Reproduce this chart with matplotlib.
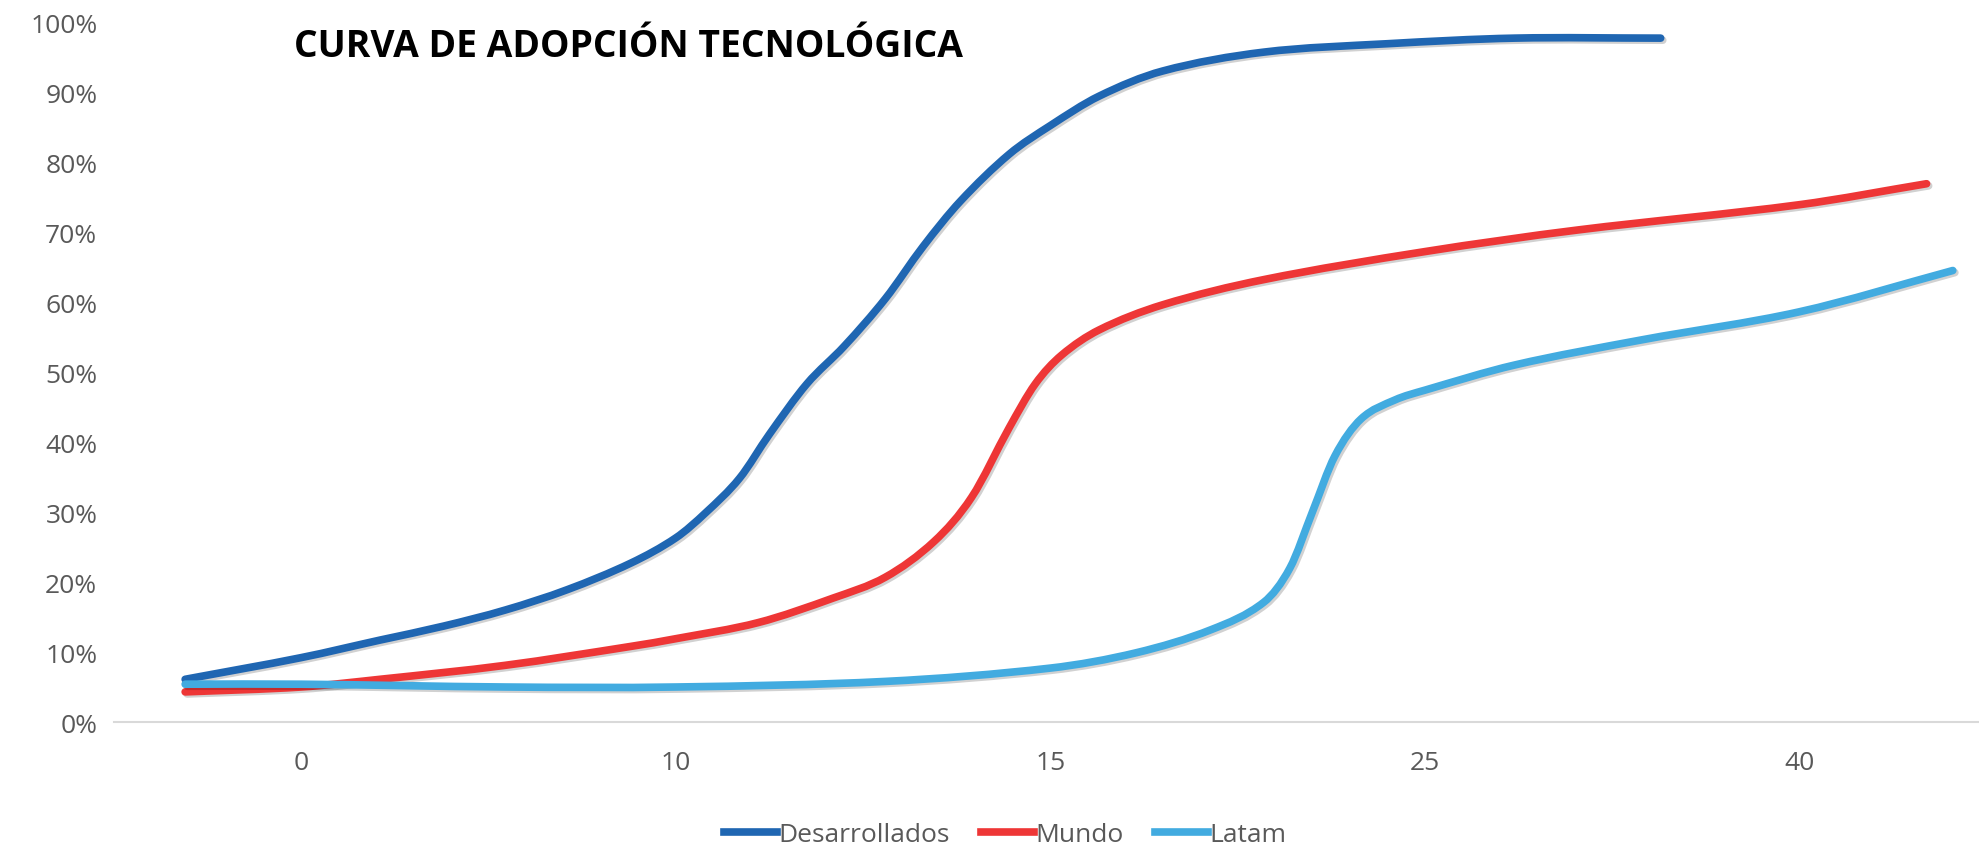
import matplotlib.pyplot as plt
import matplotlib.patheffects as pe
from matplotlib.path import Path
from matplotlib.patches import PathPatch
from matplotlib.lines import Line2D
from matplotlib.ticker import PercentFormatter

# category labels on the x axis (evenly spaced, like a spreadsheet chart)
tick_labels = ['0', '10', '15', '25', '40']

# values; x is in category units (0 = "0", 1 = "10", ...)
des_x = [-0.31, 0.0, 0.21, 0.38, 0.545, 0.71, 0.88, 1.0, 1.08, 1.17, 1.25, 1.35,
         1.45, 1.56, 1.66, 1.76, 1.89, 2.0, 2.13, 2.30, 2.57, 2.90, 3.24, 3.63]
des_y = [6.1, 9.2, 11.7, 13.7, 16.0, 18.9, 22.7, 26.3, 29.9, 34.8, 41.1, 48.3,
         53.7, 60.5, 67.9, 74.4, 81.1, 85.2, 89.4, 93.0, 95.7, 96.9, 97.7, 97.7]

mundo_x = [-0.31, 0.0, 0.21, 0.545, 0.88, 1.0, 1.22, 1.42, 1.56, 1.69, 1.79, 1.89,
           1.96, 2.03, 2.13, 2.30, 2.57, 3.0, 3.41, 4.0, 4.34]
mundo_y = [4.3, 5.0, 6.1, 8.1, 10.8, 11.9, 14.2, 17.7, 20.7, 25.8, 32.1, 42.0,
           48.3, 52.4, 56.0, 59.6, 63.2, 67.2, 70.3, 73.9, 76.9]

latam_x = [-0.31, 0.0, 0.545, 1.0, 1.56, 2.0, 2.23, 2.43, 2.57, 2.64, 2.70, 2.76,
           2.83, 2.92, 3.0, 3.24, 3.58, 4.0, 4.41]
latam_y = [5.4, 5.4, 5.0, 5.0, 5.8, 7.7, 9.9, 13.2, 17.1, 22.0, 30.0, 38.0,
           43.3, 46.0, 47.4, 51.0, 54.6, 58.6, 64.5]


def smooth_path(xs, ys):
    """Bezier path through the points (cubic Hermite on x, like a smoothed line)"""
    n = len(xs)
    slopes = []
    for i in range(n):
        a = max(i - 1, 0)
        b = min(i + 1, n - 1)
        slopes.append((ys[b] - ys[a]) / (xs[b] - xs[a]))
    verts = [(xs[0], ys[0])]
    codes = [Path.MOVETO]
    for i in range(n - 1):
        h = xs[i + 1] - xs[i]
        verts += [(xs[i] + h / 3, ys[i] + slopes[i] * h / 3),
                  (xs[i + 1] - h / 3, ys[i + 1] - slopes[i + 1] * h / 3),
                  (xs[i + 1], ys[i + 1])]
        codes += [Path.CURVE4] * 3
    return Path(verts, codes)


plt.rcParams['font.family'] = ['Open Sans', 'DejaVu Sans']

fig = plt.figure(figsize=(19.79, 8.53), dpi=100)
ax = fig.add_axes([0.0576, 0.1524, 0.9424, 0.8206])

shadow = [pe.SimpleLineShadow(offset=(1.5, -1.5), alpha=0.18), pe.Normal()]
series = [
    (des_x, des_y, '#1F66B2', 'Desarrollados'),
    (mundo_x, mundo_y, '#EE3636', 'Mundo'),
    (latam_x, latam_y, '#42ABE0', 'Latam'),
]
handles = []
for xs, ys, color, name in series:
    path = smooth_path(xs, [v / 100 for v in ys])
    patch = PathPatch(path, fill=False, edgecolor=color, lw=5.5,
                      capstyle='round', joinstyle='round', path_effects=shadow)
    ax.add_patch(patch)
    handles.append(Line2D([], [], color=color, lw=5.5, label=name))

ax.set_xlim(-0.5, 4.48)
ax.set_ylim(0, 1.0)
ax.set_xticks(range(len(tick_labels)))
ax.set_xticklabels(tick_labels)
ax.set_yticks([i / 10 for i in range(11)])
ax.yaxis.set_major_formatter(PercentFormatter(1.0, decimals=0))
ax.tick_params(length=0, labelsize=19, colors='#595959', pad=12)
ax.tick_params(axis='x', pad=20)

for side in ['top', 'right', 'left']:
    ax.spines[side].set_visible(False)
ax.spines['bottom'].set_color('#D9D9D9')
ax.spines['bottom'].set_linewidth(1.5)

fig.text(0.1486, 0.945, 'CURVA DE ADOPCIÓN TECNOLÓGICA', fontsize=26.8,
         fontweight='bold', color='black', va='center', ha='left')

leg = fig.legend(handles=handles, loc='center', bbox_to_anchor=(0.508, 0.02), ncol=3,
                 frameon=False, fontsize=19, handlelength=2.0, handletextpad=0.05,
                 columnspacing=1.2)
for t in leg.get_texts():
    t.set_color('#595959')

fig.savefig('out.png', dpi=100)
